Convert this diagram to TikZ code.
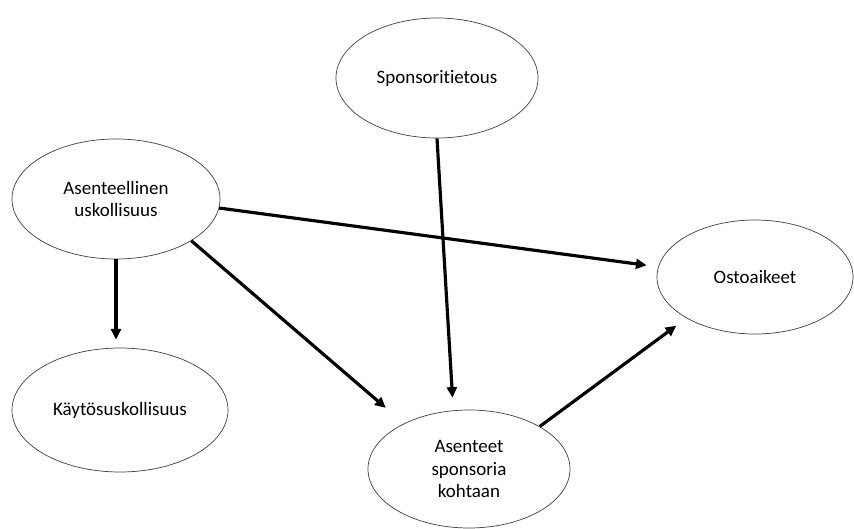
\documentclass[tikz,border=0pt]{standalone}
\usepackage{fontspec}
\setmainfont[Ligatures=NoCommon]{Carlito}
\usepackage{tikz}
\usetikzlibrary{shapes.geometric,arrows.meta,calc}

\tikzset{
	blob/.style={ellipse, draw=black!75, line width=0.6pt, inner sep=0pt,
		align=center, font=\fontsize{16.2}{19.3}\selectfont},
	link/.style={-{Triangle[length=3.2mm,width=3mm]}, line width=2.7pt}
}

\begin{document}
\begin{tikzpicture}[x=0.03cm, y=-0.03cm]
	\useasboundingbox (0,0) rectangle (854,529);
	\node[blob, minimum width=6.24cm, minimum height=3.6cm] (asent) at (116,199) {Asenteellinen\\uskollisuus};
	\node[blob, minimum width=6.06cm, minimum height=3.6cm] (sponsori) at (437,78) {Sponsoritietous};
	\node[blob, minimum width=5.88cm, minimum height=3.42cm] (osto) at (755,277) {Ostoaikeet};
	\node[blob, minimum width=6.48cm, minimum height=3.72cm] (kaytos) at (120,410) {Käytösuskollisuus};
	\node[blob, minimum width=6.06cm, minimum height=3.54cm] (asenteet) at (469,469) {Asenteet\\sponsoria\\kohtaan};
%
	\draw[link, shorten >=0.35cm] (asent.-5) -- (osto.174);
	\draw[link, shorten >=0.24cm] (asent.south) -- (asent.south |- kaytos.north);
	\draw[link, shorten >=0.72cm] (asent.-29) -- (asenteet.145);
	\draw[link, shorten >=0.38cm] (sponsori.south) -- (asenteet.105);
	\draw[link, shorten >=0.38cm] (asenteet.31) -- (osto.211);
\end{tikzpicture}
\end{document}
